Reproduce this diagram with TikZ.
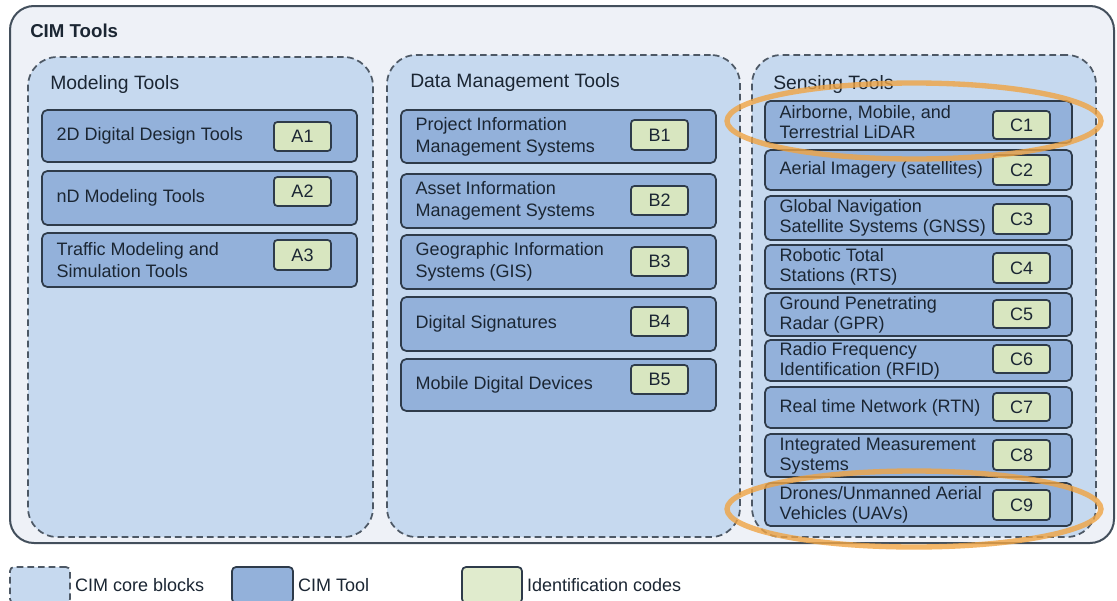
\documentclass[tikz,border=0pt]{standalone}
\usepackage{fontspec}
\setmainfont{Liberation Sans}
\usetikzlibrary{fit}
\definecolor{outerfill}{HTML}{EEF1F7}
\definecolor{corefill}{HTML}{C6D9EF}
\definecolor{toolfill}{HTML}{93B1DA}
\definecolor{codefill}{HTML}{D8E6C0}
\definecolor{edge}{HTML}{2E3B4A}
\definecolor{hl}{HTML}{F0A443}
\definecolor{txt}{HTML}{1B2633}
\newcommand\tbox[6]{\node[tool, fit={(#2,#3) (#4,#5)}] (#1) {};
  \node[lbl] at ([xshift=11.5pt]#1.west) {#6};}
\newcommand\cbox[6]{\node[code, fit={(#2,#3) (#4,#5)}] (#1) {};
  \node[inner sep=0pt] at (#1.center) {#6};}
\begin{document}
\begin{tikzpicture}[x=0.75pt, y=-0.75pt, text=txt,
  font=\fontsize{13.5}{16}\selectfont,
  core/.style={draw=edge!85, line width=1.3pt, dash pattern=on 5pt off 3pt, fill=corefill, rounded corners=22pt, inner sep=0pt},
  tool/.style={draw=edge, line width=1.3pt, fill=toolfill, rounded corners=4pt, inner sep=0pt},
  code/.style={draw=edge, line width=1.3pt, fill=codefill, rounded corners=2.5pt, inner sep=0pt},
  lbl/.style={anchor=west, align=left, inner sep=0pt, font=\fontsize{13.5}{16.5}\selectfont},
  clbl/.style={anchor=west, align=left, inner sep=0pt, font=\fontsize{13.5}{15}\selectfont},
  head/.style={anchor=west, inner sep=0pt, font=\fontsize{14.5}{17}\selectfont},
  hlring/.style={draw=hl, line width=4pt, opacity=0.8}]
\useasboundingbox[fill=white] (0,0) rectangle (1117,600);
% outer frame
\node[draw=edge!90, line width=1.5pt, fill=outerfill, rounded corners=18pt, inner sep=0pt, fit={(10,6) (1114,543)}] (cim) {};
\node[anchor=west, inner sep=0pt, font=\bfseries\fontsize{14}{17}\selectfont] (cimt) at (30,31) {CIM Tools};
% core blocks
\node[core, fit={(28,57) (373,537)}] (mod) {};
\node[head] (modt) at (50,84) {Modeling Tools};
\node[core, fit={(387,55) (740,537)}] (dat) {};
\node[head] (datt) at (410,82) {Data Management Tools};
\node[core, fit={(752,55) (1096,537)}] (sen) {};
\node[head] (sent) at (773,84) {Sensing Tools};
% Modeling tools
\tbox{a1}{42}{110}{357}{162}{2D Digital Design Tools}
\cbox{ca1}{274}{122}{331}{151}{A1}
\tbox{a2}{42}{171}{357}{225}{nD Modeling Tools}
\cbox{ca2}{274}{177}{331}{206}{A2}
\tbox{a3}{42}{233}{357}{287}{Traffic Modeling and\\Simulation Tools}
\cbox{ca3}{274}{240}{331}{270}{A3}
% Data management tools
\tbox{b1}{401}{110}{716}{163}{Project Information\\Management Systems}
\cbox{cb1}{631}{120}{688}{150}{B1}
\tbox{b2}{401}{174}{716}{228}{Asset Information\\Management Systems}
\cbox{cb2}{631}{186}{688}{215}{B2}
\tbox{b3}{401}{235}{716}{289}{Geographic Information\\Systems (GIS)}
\cbox{cb3}{631}{247}{688}{276}{B3}
\tbox{b4}{401}{297}{716}{351}{Digital Signatures}
\cbox{cb4}{631}{307}{688}{336}{B4}
\tbox{b5}{401}{359}{716}{411}{Mobile Digital Devices}
\cbox{cb5}{631}{365}{688}{394}{B5}
% Sensing tools
\tikzset{lbl/.style={clbl}}
\tbox{c1}{765}{101}{1072}{143}{Airborne, Mobile, and\\Terrestrial LiDAR}
\cbox{cc1}{993}{111}{1050}{139}{C1}
\tbox{c2}{765}{150}{1072}{190}{Aerial Imagery (satellites)}
\cbox{cc2}{993}{155}{1050}{185}{C2}
\tbox{c3}{765}{196}{1072}{240}{Global Navigation\\Satellite Systems (GNSS)}
\cbox{cc3}{993}{204}{1050}{234}{C3}
\tbox{c4}{765}{245}{1072}{289}{Robotic Total\\Stations (RTS)}
\cbox{cc4}{993}{253}{1050}{283}{C4}
\tbox{c5}{765}{293}{1072}{336}{Ground Penetrating\\Radar (GPR)}
\cbox{cc5}{993}{300}{1050}{328}{C5}
\tbox{c6}{765}{340}{1072}{381}{Radio Frequency\\Identification (RFID)}
\cbox{cc6}{993}{345}{1050}{373}{C6}
\tbox{c7}{765}{387}{1072}{428}{Real time Network (RTN)}
\cbox{cc7}{993}{393}{1050}{421}{C7}
\tbox{c8}{765}{434}{1072}{477}{Integrated Measurement\\Systems}
\cbox{cc8}{993}{440}{1050}{470}{C8}
\tbox{c9}{765}{483}{1072}{526}{Drones/Unmanned Aerial\\Vehicles (UAVs)}
\cbox{cc9}{993}{490}{1050}{520}{C9}
% highlights
\draw[hlring] (914,121) ellipse [x radius=140.25pt, y radius=28.5pt];
\draw[hlring] (914,509) ellipse [x radius=140.25pt, y radius=28.5pt];
% legend
\node[core, rounded corners=3pt, fit={(10,567) (70,603)}] (lgcore) {};
\node[anchor=west, inner sep=0pt] at ([xshift=3pt]lgcore.east |- 0,585) {CIM core blocks};
\node[tool, rounded corners=3pt, fit={(232,567) (293,603)}] (lgtool) {};
\node[anchor=west, inner sep=0pt] at ([xshift=3pt]lgtool.east |- 0,585) {CIM Tool};
\node[code, rounded corners=3pt, fill=codefill!80, fit={(462,567) (522,603)}] (lgcode) {};
\node[anchor=west, inner sep=0pt] at ([xshift=3pt]lgcode.east |- 0,585) {Identification codes};
\end{tikzpicture}
\end{document}
